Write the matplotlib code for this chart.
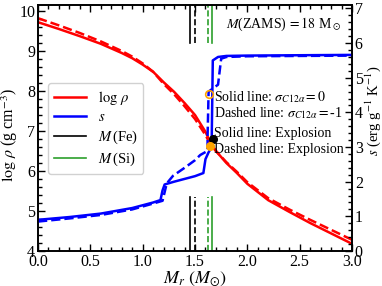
import matplotlib
matplotlib.use("Agg")
import matplotlib.pyplot as plt
from matplotlib.ticker import MultipleLocator
from matplotlib.lines import Line2D

plt.rcParams['font.family'] = ['Liberation Serif', 'DejaVu Serif']
plt.rcParams['mathtext.fontset'] = 'stix'

# log rho, solid (sigma=0) and dashed (sigma=-1)
rho_x = [0, 0.2, 0.4, 0.6, 0.8, 0.9, 1.0, 1.1, 1.2, 1.3, 1.4, 1.5, 1.6, 1.65, 1.7, 1.8, 1.9, 2.0, 2.2, 2.4, 2.6, 2.8, 3.0]
rho_solid = [9.72, 9.55, 9.37, 9.18, 8.95, 8.82, 8.66, 8.48, 8.22, 7.98, 7.7, 7.4, 6.98, 6.7, 6.5, 6.2, 5.95, 5.68, 5.27, 4.98, 4.7, 4.44, 4.18]
rho_dashed = [9.82, 9.64, 9.45, 9.24, 9.0, 8.86, 8.69, 8.48, 8.18, 7.92, 7.62, 7.3, 6.9, 6.65, 6.5, 6.22, 5.98, 5.72, 5.32, 5.04, 4.78, 4.53, 4.28]

# entropy s
s_x_solid = [0, 0.3, 0.6, 0.9, 1.1, 1.17, 1.19, 1.21, 1.3, 1.4, 1.5, 1.58, 1.6, 1.63, 1.65, 1.66, 1.67, 1.72, 1.8, 2.0, 2.5, 3.0]
s_solid = [0.9, 0.98, 1.08, 1.24, 1.4, 1.47, 1.75, 1.92, 2.0, 2.08, 2.16, 2.25, 2.65, 2.85, 2.95, 3.3, 5.5, 5.6, 5.63, 5.64, 5.65, 5.66]
s_x_dashed = [0, 0.3, 0.6, 0.9, 1.1, 1.19, 1.21, 1.23, 1.29, 1.4, 1.5, 1.55, 1.62, 1.62, 1.63, 1.72, 1.74, 1.75, 1.8, 2.0, 2.5, 3.0]
s_dashed = [0.85, 0.94, 1.04, 1.2, 1.37, 1.45, 1.7, 1.95, 2.17, 2.4, 2.62, 2.77, 2.89, 3.3, 4.6, 4.8, 5.3, 5.55, 5.6, 5.62, 5.63, 5.64]

fe_solid, fe_dashed = 1.45, 1.50
si_solid, si_dashed = 1.66, 1.62

fig = plt.figure(figsize=(3.82, 2.86), dpi=100)
ax = fig.add_axes([38/382, 1 - 251/286, 314/382, 246/286])
ax2 = ax.twinx()

ax.plot(rho_x, rho_solid, color='red', lw=1.8)
ax.plot(rho_x, rho_dashed, color='red', lw=1.8, ls='--')
ax2.plot(s_x_solid, s_solid, color='blue', lw=1.8)
ax2.plot(s_x_dashed, s_dashed, color='blue', lw=1.8, ls='--')

for xv, c, ls in [(fe_solid, 'black', '-'), (fe_dashed, 'black', '--'), (si_solid, 'tab:green', '-'), (si_dashed, 'tab:green', '--')]:
    ax.axvline(xv, ymin=0, ymax=0.22, color=c, ls=ls, lw=1.2)
    ax.axvline(xv, ymin=0.845, ymax=1, color=c, ls=ls, lw=1.2)

ax2.plot([1.63], [4.54], 'o', mfc='none', mec='orange', ms=5.5, mew=1.2)
ax2.plot([1.67], [3.24], 'o', color='black', ms=5.5)
ax2.plot([1.645], [3.03], 'o', color='orange', ms=5.5)

ax.set_xlim(0, 3)
ax.set_ylim(4, 10.15)
ax2.set_ylim(0, 7.1)

ax.xaxis.set_major_locator(MultipleLocator(0.5))
ax.xaxis.set_minor_locator(MultipleLocator(0.1))
ax.yaxis.set_major_locator(MultipleLocator(1))
ax.yaxis.set_minor_locator(MultipleLocator(0.2))
ax2.yaxis.set_major_locator(MultipleLocator(1))
ax2.yaxis.set_minor_locator(MultipleLocator(0.2))

ax.tick_params(which='both', direction='in', top=True, labelsize=11.5, width=1, pad=2)
ax.tick_params(which='major', length=5)
ax.tick_params(which='minor', length=3)
ax2.tick_params(which='both', direction='in', labelsize=11.5, width=1, pad=2)
ax2.tick_params(which='major', length=5)
ax2.tick_params(which='minor', length=3)
for a in (ax, ax2):
    for sp in a.spines.values():
        sp.set_linewidth(1.2)

ax.set_xlabel(r'$M_r\ (M_{\odot})$', fontsize=13)
ax.set_ylabel(r'$\log\,\rho$ (g cm$^{-3}$)', fontsize=11.5)
ax2.set_ylabel(r'$s$ (erg g$^{-1}$ K$^{-1}$)', fontsize=10.5)
ax.xaxis.set_label_coords(0.5, -0.072)
ax.yaxis.set_label_coords(-0.058, 0.47)
ax2.yaxis.set_label_coords(1.035, 0.57)

handles = [Line2D([], [], color='red', lw=1.8), Line2D([], [], color='blue', lw=1.8),
           Line2D([], [], color='black', lw=1.2), Line2D([], [], color='tab:green', lw=1.2)]
labels = [r'$\log\,\rho$', r'$s$', r'$M\,$(Fe)', r'$M\,$(Si)']
ax.legend(handles, labels, loc='upper left', bbox_to_anchor=(0.032, 0.683), borderaxespad=0,
          fontsize=10.5, handlelength=2.2, borderpad=0.4, labelspacing=0.3, framealpha=0.9)

ax.text(0.965, 0.955, r'$M$(ZAMS)$\,=18$ M$_\odot$', transform=ax.transAxes, ha='right', va='top', fontsize=10)
ax.text(1.68, 7.85, r'Solid line: $\sigma_{C12\alpha}=0$', fontsize=10, va='center')
ax.text(1.68, 7.45, r'Dashed line: $\sigma_{C12\alpha}=$-1', fontsize=10, va='center')
ax.text(1.68, 6.93, 'Solid line: Explosion', fontsize=10, va='center')
ax.text(1.68, 6.55, 'Dashed line: Explosion', fontsize=10, va='center')

fig.savefig('out.png', dpi=100)
